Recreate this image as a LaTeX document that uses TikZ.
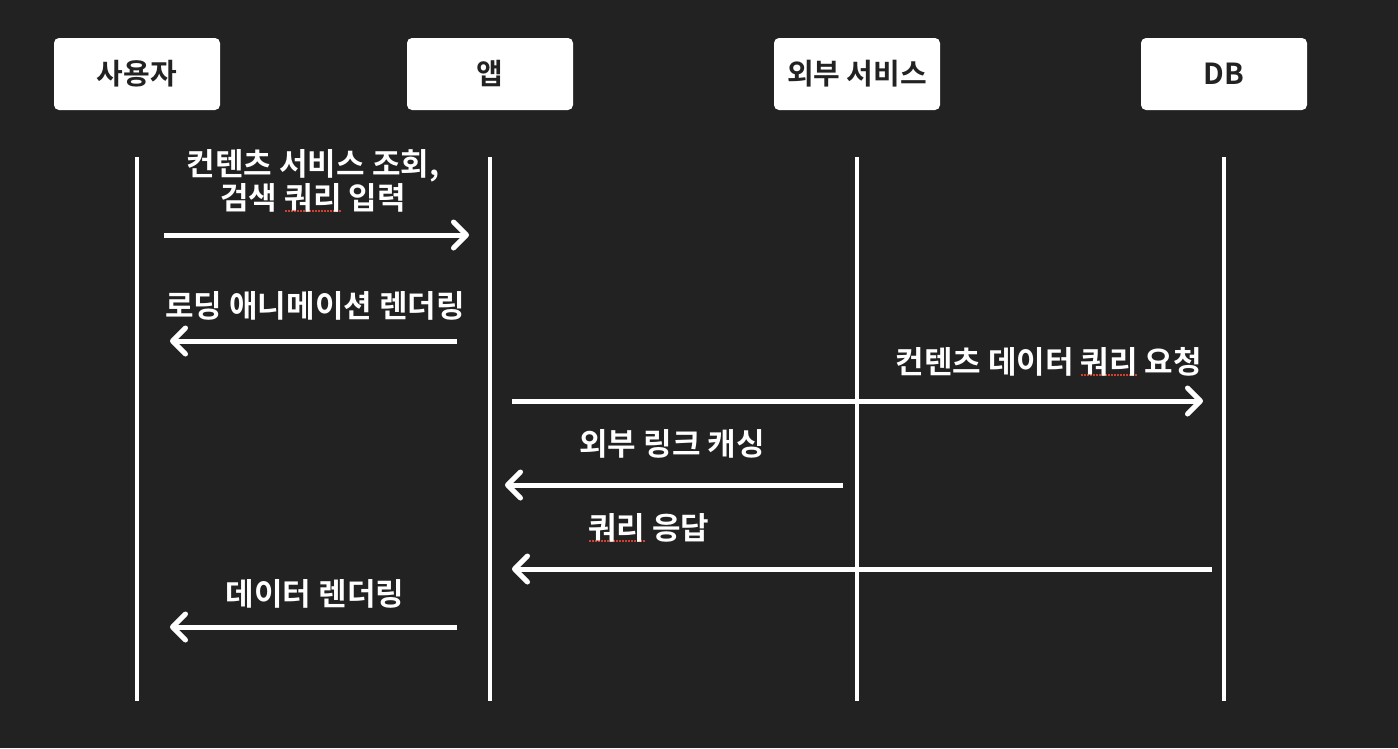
\documentclass[tikz,border=0pt]{standalone}
\usepackage{fontspec}
\usepackage{tikz}
\usetikzlibrary{arrows.meta}
\newfontfamily\kr{Noto Sans CJK KR}[BoldFont={* Bold}]
\definecolor{bg}{HTML}{222222}
\definecolor{typo}{HTML}{D0402F}
% dotted red mark under a word
\newcommand\typo[1]{\setbox0\hbox{#1}\rlap{\hbox to\wd0{\color{typo}\xleaders\hbox to 3pt{\hss\rule[-2pt]{1.6pt}{1.6pt}\hss}\hfill}}#1}

\begin{document}
\begin{tikzpicture}[x=1pt,y=-1pt,
 actor/.style={fill=white,rounded corners=5pt,minimum width=166pt,minimum height=72pt,
  text=bg,font=\kr\bfseries\fontsize{29}{32}\selectfont},
 life/.style={white,line width=4pt},
 msg/.style={white,line width=5pt,-{Straight Barb[length=13pt,width=26pt,line cap=round,line join=round]}},
 lbl/.style={text=white,font=\kr\bfseries\fontsize{31}{34}\selectfont,align=center,inner sep=0pt}]

\fill[bg] (0,0) rectangle (1398,748);

% actors
\node[actor] (usr) at (137,74) {사용자};
\node[actor] (app) at (490,74) {앱};
\node[actor] (ext) at (857,74) {외부 서비스};
\node[actor] (db)  at (1224,74) {DB};

% lifelines
\foreach \n in {usr,app,ext,db} \draw[life] (\n |- 0,157) -- (\n |- 0,701);

% messages
\draw[msg,shorten <=27pt,shorten >=21pt] (usr |- 0,235) -- (app |- 0,235);
\node[lbl] (l1) at (313,181) {컨텐츠 서비스 조회,\\검색 \typo{쿼리} 입력};

\draw[msg,shorten <=33pt,shorten >=33pt] (app |- 0,341) -- (usr |- 0,341);
\node[lbl] (l2) at (315,306) {로딩 애니메이션 렌더링};

\draw[msg,shorten <=22pt,shorten >=21pt] (app |- 0,401) -- (db |- 0,401);
\node[lbl,anchor=east] (l3) at (1202,362) {컨텐츠 데이터 \typo{쿼리} 요청};

\draw[msg,shorten <=14pt,shorten >=15pt] (ext |- 0,485) -- (app |- 0,485);
\node[lbl] (l4) at (672,444) {외부 링크 캐싱};

\draw[msg,shorten <=12pt,shorten >=22pt] (db |- 0,569) -- (app |- 0,569);
\node[lbl,anchor=west] (l5) at (588,528) {\typo{쿼리} 응답};

\draw[msg,shorten <=33pt,shorten >=33pt] (app |- 0,627) -- (usr |- 0,627);
\node[lbl] (l6) at (315,594) {데이터 렌더링};

\end{tikzpicture}
\end{document}
